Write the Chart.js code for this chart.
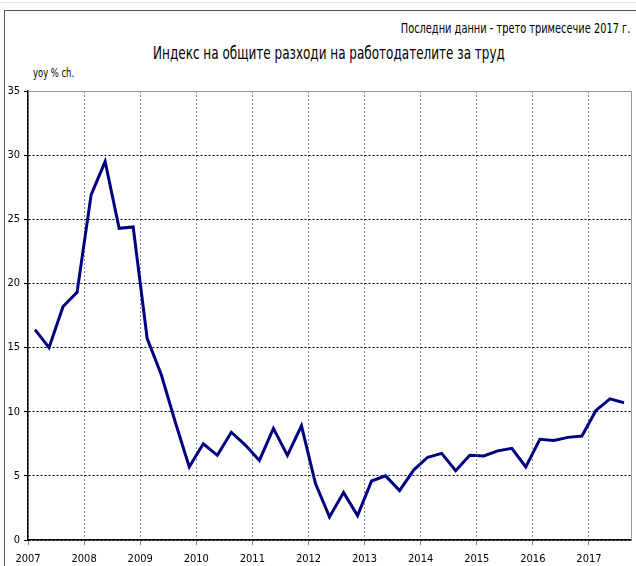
<!DOCTYPE html>
<html>
<head>
<meta charset="utf-8">
<script src="https://cdn.jsdelivr.net/npm/chart.js@4"></script>
<style>
  body { margin: 0; background: #fff; overflow: hidden; }
  #wrap { position: relative; width: 636px; height: 566px; }
  .topline { position: absolute; left: 0; top: 2px; width: 636px; border-top: 1px solid #e2e2e2; }
  .frame { position: absolute; left: 4px; top: 10px; width: 700px; height: 700px; border: 1px solid #555; }
  .txt { position: absolute; font-family: "DejaVu Sans Condensed", sans-serif; color: #000; white-space: nowrap; }
  #note { right: 6px; top: 20px; font-size: 14px; transform: scaleX(0.78); transform-origin: right center; }
  #title { left: 0; width: 658px; text-align: center; top: 43px; font-size: 17px; transform: scaleX(0.786); transform-origin: center center; }
  #unit { left: 33px; top: 65px; font-size: 13px; transform: scaleX(0.72); transform-origin: left center; }
  canvas { position: absolute; left: 0; top: 0; }
</style>
</head>
<body>
<div id="wrap">
  <div class="topline"></div>
  <div class="frame"></div>
  <div class="txt" id="note">Последни данни - трето тримесечие 2017 г.</div>
  <div class="txt" id="title">Индекс на общите разходи на работодателите за труд</div>
  <div class="txt" id="unit">yoy % ch.</div>
  <canvas id="chart" width="636" height="566"></canvas>
</div>
<script>
// quarterly data, 2007 Q1 - 2017 Q3
const years = [2007, 2008, 2009, 2010, 2011, 2012, 2013, 2014, 2015, 2016, 2017];
const values = [
  16.4, 15.0, 18.2, 19.3,
  26.9, 29.5, 24.3, 24.4,
  15.7, 12.9, 9.2, 5.7,
  7.5, 6.6, 8.4, 7.4,
  6.2, 8.7, 6.6, 8.9,
  4.4, 1.8, 3.7, 1.9,
  4.6, 5.0, 3.85, 5.45,
  6.45, 6.75, 5.4, 6.6,
  6.55, 6.95, 7.15, 5.7,
  7.85, 7.75, 8.0, 8.1,
  10.1, 11.0, 10.7
];
const yTicks = [0, 5, 10, 15, 20, 25, 30, 35];

// each quarter sits in the middle of its quarter-year band
const points = values.map((v, i) => ({ x: years[0] + (i + 0.5) / 4, y: v }));

const font = { family: '"DejaVu Sans Condensed", sans-serif', size: 11 };

const framePlugin = {
  id: 'frame',
  afterDraw(chart) {
    const a = chart.chartArea;
    const c = chart.ctx;
    c.save();
    c.strokeStyle = '#9a9a9a';
    c.lineWidth = 1;
    c.beginPath();
    c.moveTo(a.left, a.top + 0.5);
    c.lineTo(a.right + 0.5, a.top + 0.5);
    c.lineTo(a.right + 0.5, a.bottom);
    c.stroke();
    c.restore();
  }
};

new Chart(document.getElementById('chart'), {
  type: 'line',
  data: {
    datasets: [{
      data: points,
      borderColor: '#000080',
      borderWidth: 3,
      pointRadius: 0,
      tension: 0,
      fill: false
    }]
  },
  options: {
    responsive: false,
    animation: false,
    layout: { padding: { top: 91, right: 5, left: 0, bottom: 0 } },
    plugins: { legend: { display: false }, tooltip: { enabled: false } },
    scales: {
      x: {
        type: 'linear',
        min: years[0],
        max: years[0] + values.length / 4,
        afterFit(scale) { scale.height = 26; },
        ticks: {
          stepSize: 1,
          includeBounds: false,
          color: '#000',
          font: font,
          padding: 8,
          maxRotation: 0,
          callback: v => Number.isInteger(v) ? String(v) : ''
        },
        grid: { color: '#888', tickColor: '#888', tickLength: 5 },
        border: { color: '#000', width: 1.5, dash: [2, 2] }
      },
      y: {
        min: 0,
        max: 35,
        afterFit(scale) { scale.width = 28; },
        afterBuildTicks(scale) { scale.ticks = yTicks.map(v => ({ value: v })); },
        ticks: { color: '#000', font: font, padding: 4 },
        grid: {
          color: ctx => ctx.tick && ctx.tick.value === 35 ? 'rgba(0,0,0,0)' : '#000',
          tickColor: '#000',
          tickLength: 4,
          tickBorderDash: []
        },
        border: { color: '#000', width: 1.5, dash: [2, 2] }
      }
    }
  },
  plugins: [framePlugin]
});
</script>
</body>
</html>
